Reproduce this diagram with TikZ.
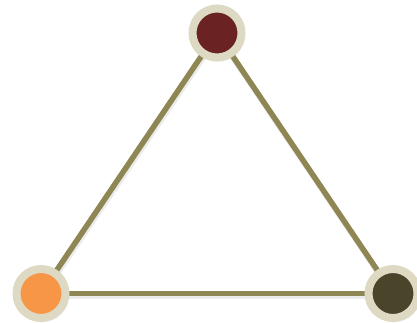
\documentclass[tikz,border=0pt]{standalone}
\usepackage{xcolor}
\usepackage{tikz}
\usetikzlibrary{positioning, shadows, backgrounds}

\definecolor{ringbeige}{HTML}{DDD9C3}
\definecolor{edgeolive}{HTML}{8E8753}
\definecolor{topred}{HTML}{6A2223}
\definecolor{leftorange}{HTML}{F79646}
\definecolor{rightolive}{HTML}{4A442A}

\tikzset{
    vertex/.style={circle, draw=ringbeige, line width=8pt, minimum size=49pt, inner sep=0pt,
        drop shadow={shadow xshift=1.5pt, shadow yshift=-2.5pt, shadow scale=1.08, opacity=0.06},
        drop shadow={shadow xshift=1.5pt, shadow yshift=-2pt, shadow scale=1.03, opacity=0.10},
        drop shadow={shadow xshift=1pt, shadow yshift=-1.5pt, shadow scale=1.0, opacity=0.12}},
    side/.style={edgeolive, line width=5.5pt},
    sideshadow/.style={black, opacity=0.08, line width=6pt, transform canvas={shift={(1pt,-2.5pt)}}}
}

\begin{document}
\begin{tikzpicture}[x=1pt, y=1pt]
    \useasboundingbox (0, 0) rectangle (417, 323);

    % vertices
    \node[vertex, fill=topred] (top) at (217, 290) {};
    \node[vertex, fill=leftorange] (left) at (41, 29.5) {};
    \node[vertex, fill=rightolive] (right) at (393, 29.5) {};

    % sides
    \begin{pgfonlayer}{background}
        \draw[sideshadow] (top.center) -- (left.center) -- (right.center) -- (top.center);
        \draw[side] (top.center) -- (left.center);
        \draw[side] (left.center) -- (right.center);
        \draw[side] (right.center) -- (top.center);
    \end{pgfonlayer}
\end{tikzpicture}
\end{document}
